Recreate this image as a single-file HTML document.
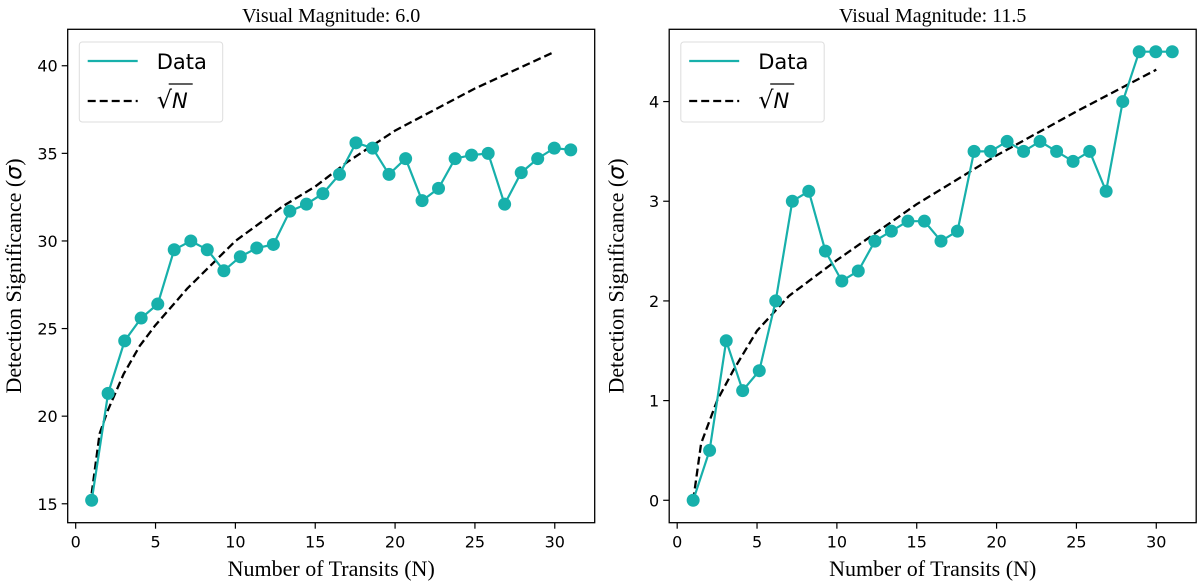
<!DOCTYPE html>
<html><head><meta charset="utf-8"><style>
body{margin:0;background:#fff;}
svg{display:block;}
.tick{font-family:"DejaVu Sans",sans-serif;font-size:16px;fill:#000;}
.lab{font-family:"Liberation Serif",serif;font-size:22px;fill:#000;}
.ttl{font-family:"Liberation Serif",serif;font-size:20px;fill:#000;}
.leg{font-family:"DejaVu Sans",sans-serif;font-size:21px;fill:#000;}
</style></head><body>
<svg id="chart" width="1200" height="583" xmlns="http://www.w3.org/2000/svg"></svg>
<script>
const transits = [1,2.03,3.07,4.1,5.14,6.17,7.21,8.24,9.28,10.31,11.34,12.38,13.41,14.45,15.48,16.52,17.55,18.59,19.62,20.66,21.69,22.72,23.76,24.79,25.83,26.86,27.9,28.93,29.97,31];
const sigmaMag6 = [15.2,21.3,24.3,25.6,26.4,29.5,30.0,29.5,28.3,29.1,29.6,29.8,31.7,32.1,32.7,33.8,35.6,35.3,33.8,34.7,32.3,33.0,34.7,34.9,35.0,32.1,33.9,34.7,35.3,35.2];
const sigmaMag115 = [0,0.5,1.6,1.1,1.3,2.0,3.0,3.1,2.5,2.2,2.3,2.6,2.7,2.8,2.8,2.6,2.7,3.5,3.5,3.6,3.5,3.6,3.5,3.4,3.5,3.1,4.0,4.5,4.5,4.5];
const sqrtX6 = [1,1.5,2,3,4,5,7,10,13,15,17,20,25,30];
const sqrtY6 = [15.6,19.0,20.3,22.4,24.0,25.2,27.3,30.0,32.0,33.1,34.5,36.3,38.7,40.8];
const sqrtX115 = [1,1.5,2.5,3.5,5,7,10,15,20,25,30];
const sqrtY115 = [0,0.57,1.0,1.3,1.7,2.05,2.41,2.97,3.46,3.9,4.32];
const xTicks = [0,5,10,15,20,25,30];
const yTicks6 = [15,20,25,30,35,40];
const yTicks115 = [0,1,2,3,4];
const titles = ["Visual Magnitude: 6.0","Visual Magnitude: 11.5"];

const NS="http://www.w3.org/2000/svg";
const svg=document.getElementById('chart');
function mk(tag,attrs,parent){const e=document.createElementNS(NS,tag);for(const k in attrs)e.setAttribute(k,attrs[k]);(parent||svg).appendChild(e);return e;}
const COLOR="#17b0ab";

function panel(ox, title, ys, sx, sy, yTicks, ymin, ymax, key){
  const L=ox+67.7, R=ox+594.7, T=29.3, B=522.7;
  const xmin=-0.5, xmax=32.5;
  const X=v=>L+(v-xmin)/(xmax-xmin)*(R-L);
  const Y=v=>B-(v-ymin)/(ymax-ymin)*(B-T);
  const g=mk('g',{});
  
  
  const t=mk('text',{x:(L+R)/2,y:22,'text-anchor':'middle',class:'ttl'},g);t.textContent=title;
  
  
  xTicks.forEach(v=>{
    const ln=mk('line',{x1:X(v),x2:X(v),y1:B,y2:B+6,stroke:'#000','stroke-width':1.2},g);
    
    
    const tx=mk('text',{x:X(v),y:B+25,'text-anchor':'middle',class:'tick'},g);tx.textContent=v;
    
    
  });
  yTicks.forEach(v=>{
    const ln=mk('line',{x1:L-6,x2:L,y1:Y(v),y2:Y(v),stroke:'#000','stroke-width':1.2},g);
    
    
    const tx=mk('text',{x:L-10,y:Y(v)+6,'text-anchor':'end',class:'tick'},g);tx.textContent=v;
    
    
  });
  const xl=mk('text',{x:(L+R)/2,y:576,'text-anchor':'middle',class:'lab'},g);xl.textContent="Number of Transits (N)";
  
  
  const yl=mk('text',{x:0,y:0,'text-anchor':'middle',class:'lab',transform:`translate(${ox+(key==='mag6'?21:22)},${(T+B)/2}) rotate(-90)`},g);
  yl.innerHTML='Detection Significance (<tspan font-style="italic" font-family="DejaVu Sans">σ</tspan>)';
  
  
  const dp=sx.map((v,i)=>(i?'L':'M')+X(v).toFixed(1)+','+Y(sy[i]).toFixed(1)).join('');
  const d=mk('path',{d:dp,fill:'none',stroke:'#000','stroke-width':2.3,'stroke-dasharray':'8,4','stroke-linejoin':'round'},g);
  
  
  const p=transits.map((v,i)=>(i?'L':'M')+X(v).toFixed(1)+','+Y(ys[i]).toFixed(1)).join('');
  const dl=mk('path',{d:p,fill:'none',stroke:COLOR,'stroke-width':2.2},g);
  
  
  transits.forEach((v,i)=>{
    const c=mk('circle',{cx:X(v),cy:Y(ys[i]),r:6.5,fill:COLOR},g);
    
    
  });
  const fr=mk('rect',{x:L,y:T,width:R-L,height:B-T,fill:'none',stroke:'#000','stroke-width':1.3},g);
  
  
  const lg=mk('g',{},g);
  
  
  mk('rect',{x:L+11.6,y:42,width:143.4,height:80,rx:3,fill:'#fff',stroke:'#ddd','stroke-width':1},lg);
  mk('line',{x1:L+20,x2:L+70,y1:61,y2:61,stroke:COLOR,'stroke-width':2.2},lg);
  const t1=mk('text',{x:L+89,y:69,class:'leg'},lg);t1.textContent='Data';
  
  
  mk('line',{x1:L+20,x2:L+70,y1:101,y2:101,stroke:'#000','stroke-width':2.3,'stroke-dasharray':'8,4'},lg);
  const t2=mk('text',{x:L+89,y:108,class:'leg'},lg);t2.innerHTML='<tspan font-size="24">√</tspan><tspan font-style="italic">N</tspan>';
  
  
  mk('line',{x1:L+101,x2:L+125,y1:84,y2:84,stroke:'#000','stroke-width':1.3},lg);
}
panel(0,titles[0],sigmaMag6,sqrtX6,sqrtY6,yTicks6,13.92,42.08,'mag6');
panel(601.5,titles[1],sigmaMag115,sqrtX115,sqrtY115,yTicks115,-0.225,4.725,'mag115');
</script>
</body></html>
